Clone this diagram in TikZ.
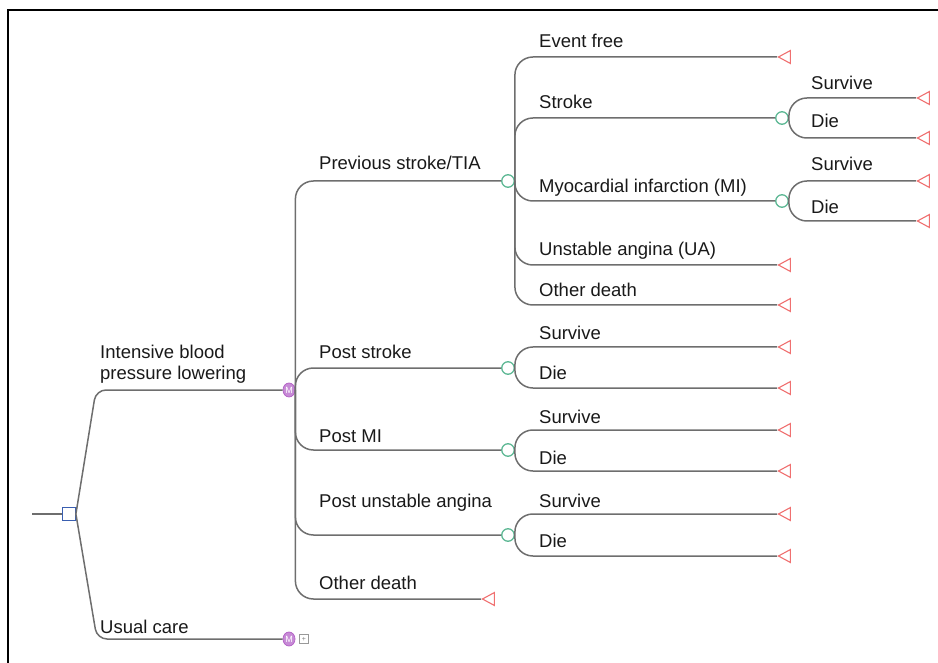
\documentclass[tikz,border=0pt]{standalone}
\usepackage{fontspec}
\setmainfont{Liberation Sans}
\usetikzlibrary{shapes.geometric}

\definecolor{linegray}{HTML}{6E6E6E}
\definecolor{chancegreen}{HTML}{5DB894}
\definecolor{termred}{HTML}{F07070}
\definecolor{markovpurple}{HTML}{B565C8}
\definecolor{decblue}{HTML}{3A5FB0}

\tikzset{
  branch/.style={draw=linegray, line width=1.5pt, rounded corners=18pt},
  lbl/.style={anchor=base west, inner sep=0pt, font=\fontsize{18.5}{22}\selectfont, text=black!90},
  chance/.style={circle, draw=chancegreen, fill=white, line width=1.3pt, minimum size=12.5pt, inner sep=0pt},
  markov/.style={ellipse, draw=markovpurple, fill=markovpurple!75, line width=0.8pt, minimum width=12pt, minimum height=14pt, inner sep=0pt, text=white, font=\fontsize{9}{9}\selectfont},
  decision/.style={rectangle, draw=decblue, line width=1.3pt, minimum size=12.5pt, fill=white, inner sep=0pt},
  terminal/.style={isosceles triangle, isosceles triangle stretches, shape border rotate=180, draw=termred, line width=1.1pt, minimum height=12pt, minimum width=13pt, inner sep=0pt, fill=white, anchor=apex},
  plusbox/.style={rectangle, draw=black!40, minimum size=9pt, inner sep=0pt, text=black!50, font=\fontsize{7}{7}\selectfont}
}

\begin{document}
\begin{tikzpicture}[x=1pt, y=-1pt]
    \useasboundingbox (0,0) rectangle (938,663);
    \draw[line width=1.6pt] (8,10) rectangle (960,700);

    % decision and markov nodes
    \node[decision] (dec) at (69,514) {};
    \coordinate (root) at (32,514);
    \node[markov] (mkA) at (289,390) {M};
    \node[markov] (mkB) at (289,639) {M};
    \node[plusbox] (mkBplus) at (304,639) {+};

    % chance nodes
    \node[chance] (chPrev) at (508,181) {};
    \node[chance] (chPS) at (508,368) {};
    \node[chance] (chPMI) at (508,450) {};
    \node[chance] (chPUA) at (508,535) {};
    \node[chance] (chStroke) at (782,118) {};
    \node[chance] (chMI) at (782,201) {};

    % terminal nodes
    \node[terminal] (tEvent) at (777,57) {};
    \node[terminal] (tUA) at (777,265) {};
    \node[terminal] (tOD) at (777,305) {};
    \node[terminal] (tStrokeS) at (916,98) {};
    \node[terminal] (tStrokeD) at (916,138) {};
    \node[terminal] (tMIS) at (916,181) {};
    \node[terminal] (tMID) at (916,221) {};
    \node[terminal] (tPSS) at (777,347) {};
    \node[terminal] (tPSD) at (777,388) {};
    \node[terminal] (tPMIS) at (777,430) {};
    \node[terminal] (tPMID) at (777,471) {};
    \node[terminal] (tPUAS) at (777,514) {};
    \node[terminal] (tPUAD) at (777,556) {};
    \node[terminal] (tMkOD) at (481,599) {};

    % branches
    \draw[branch] (root) -- (dec.west);
    \draw[branch, rounded corners=10pt] (dec.east) -- (96,390) -- (mkA.west);
    \draw[branch, rounded corners=10pt] (dec.east) -- (97,639) -- (mkB.west);

    \draw[branch] (mkA.east) |- (chPrev.west);
    \draw[branch] (mkA.east) |- (chPS.west);
    \draw[branch] (mkA.east) |- (chPMI.west);
    \draw[branch] (mkA.east) |- (chPUA.west);
    \draw[branch] (mkA.east) |- (tMkOD.apex);

    \draw[branch] (chPrev.east) |- (tEvent.apex);
    \draw[branch] (chPrev.east) |- (chStroke.west);
    \draw[branch] (chPrev.east) |- (chMI.west);
    \draw[branch] (chPrev.east) |- (tUA.apex);
    \draw[branch] (chPrev.east) |- (tOD.apex);

    \draw[branch] (chStroke.east) |- (tStrokeS.apex);
    \draw[branch] (chStroke.east) |- (tStrokeD.apex);
    \draw[branch] (chMI.east) |- (tMIS.apex);
    \draw[branch] (chMI.east) |- (tMID.apex);

    \draw[branch] (chPS.east) |- (tPSS.apex);
    \draw[branch] (chPS.east) |- (tPSD.apex);
    \draw[branch] (chPMI.east) |- (tPMIS.apex);
    \draw[branch] (chPMI.east) |- (tPMID.apex);
    \draw[branch] (chPUA.east) |- (tPUAS.apex);
    \draw[branch] (chPUA.east) |- (tPUAD.apex);

    % labels
    \node[lbl] (lIntA) at (100,359) {Intensive blood};
    \node[lbl] (lIntB) at (100,380) {pressure lowering};
    \node[lbl] (lUsual) at (100,633) {Usual care};

    \node[lbl] (lPrev) at (319,170) {Previous stroke/TIA};
    \node[lbl] (lPS) at (319,359) {Post stroke};
    \node[lbl] (lPMI) at (319,442) {Post MI};
    \node[lbl] (lPUA) at (319,507) {Post unstable angina};
    \node[lbl] (lMkOD) at (319,589) {Other death};

    \node[lbl] (lEvent) at (539,48) {Event free};
    \node[lbl] (lStroke) at (539,109) {Stroke};
    \node[lbl] (lMI) at (539,193) {Myocardial infarction (MI)};
    \node[lbl] (lUA) at (539,256) {Unstable angina (UA)};
    \node[lbl] (lOD) at (539,297) {Other death};

    \node[lbl] (lStrokeS) at (811,90) {Survive};
    \node[lbl] (lStrokeD) at (811,128) {Die};
    \node[lbl] (lMIS) at (811,171) {Survive};
    \node[lbl] (lMID) at (811,214) {Die};

    \node[lbl] (lPSS) at (539,340) {Survive};
    \node[lbl] (lPSD) at (539,380) {Die};
    \node[lbl] (lPMIS) at (539,423) {Survive};
    \node[lbl] (lPMID) at (539,464) {Die};
    \node[lbl] (lPUAS) at (539,507) {Survive};
    \node[lbl] (lPUAD) at (539,547) {Die};
\end{tikzpicture}
\end{document}
